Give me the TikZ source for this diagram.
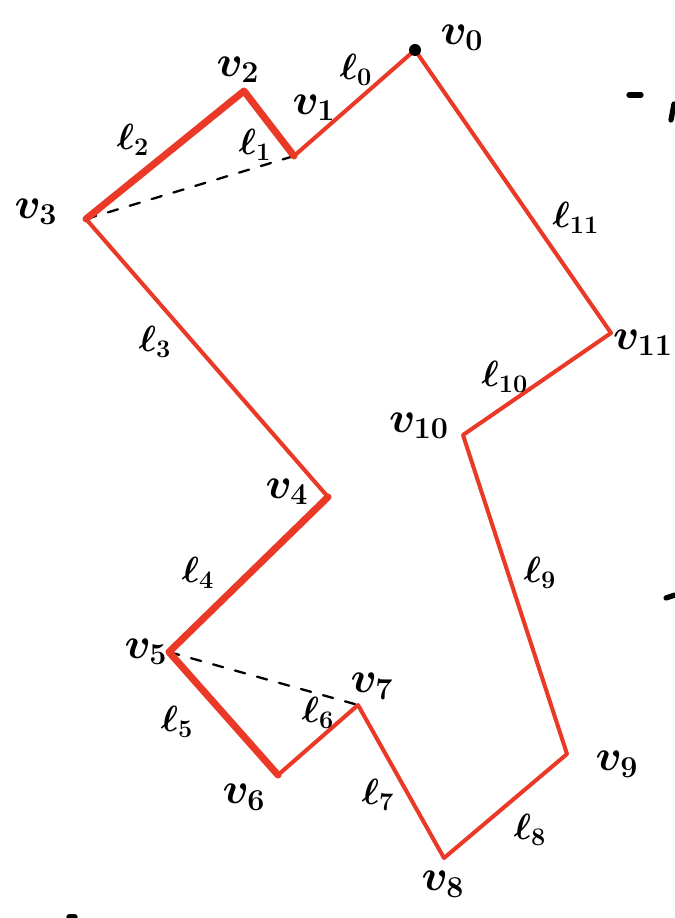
\documentclass[tikz,border=0pt]{standalone}
\usepackage{tikz}
\usetikzlibrary{positioning}
\definecolor{pen}{RGB}{234,58,39}

\begin{document}
\begin{tikzpicture}[x=0.02cm,y=-0.02cm, line cap=round, line join=round,
  edge/.style={draw=pen,line width=2.3pt},
  bold/.style={draw=pen,line width=4pt},
  diag/.style={draw,dashed,line width=1.3pt,dash pattern=on 6pt off 7pt},
  vlab/.style={font=\fontsize{26}{28}\selectfont\boldmath},
  elab/.style={font=\fontsize{21}{23}\selectfont\boldmath},
  stray/.style={line width=3pt}]
\useasboundingbox (0,0) rectangle (675,918);
% vertices
\coordinate (v0) at (415,50);
\coordinate (v1) at (294,156);
\coordinate (v2) at (244,91);
\coordinate (v3) at (86,219);
\coordinate (v4) at (328,497);
\coordinate (v5) at (169,652);
\coordinate (v6) at (278,775);
\coordinate (v7) at (358,705);
\coordinate (v8) at (444,858);
\coordinate (v9) at (567,754);
\coordinate (v10) at (463,435);
\coordinate (v11) at (611,333);
% diagonals
\draw[diag] (v3) -- (v1);
\draw[diag] (v5) -- (v7);
% polygon
\draw[edge] (v0) -- (v1);
\draw[bold] (v1) -- (v2) -- (v3);
\draw[edge] (v3) -- (v4);
\draw[bold] (v4) -- (v5) -- (v6);
\draw[edge] (v6) -- (v7) -- (v8) -- (v9) -- (v10) -- (v11) -- (v0);
\fill (v0) circle (6);
% vertex labels
\node[vlab] (l-v0) at (462,38) {$v_0$};
\node[vlab] (l-v1) at (314,108) {$v_1$};
\node[vlab] (l-v2) at (238,70) {$v_2$};
\node[vlab] (l-v3) at (36,212) {$v_3$};
\node[vlab] (l-v4) at (287,492) {$v_4$};
\node[vlab] (l-v5) at (146,652) {$v_5$};
\node[vlab] (l-v6) at (244,797) {$v_6$};
\node[vlab] (l-v7) at (372,686) {$v_7$};
\node[vlab] (l-v8) at (443,884) {$v_8$};
\node[vlab] (l-v9) at (617,764) {$v_9$};
\node[vlab] (l-v10) at (419,426) {$v_{10}$};
\node[vlab,anchor=east,inner sep=1pt] (l-v11) at (675,343) {$v_{11}$};
% edge labels
\node[elab] (e0) at (356,70) {$\ell_0$};
\node[elab] (e1) at (255,145) {$\ell_1$};
\node[elab] (e2) at (133,140) {$\ell_2$};
\node[elab] (e3) at (155,342) {$\ell_3$};
\node[elab] (e4) at (198,573) {$\ell_4$};
\node[elab] (e5) at (177,722) {$\ell_5$};
\node[elab] (e6) at (318,713) {$\ell_6$};
\node[elab] (e7) at (378,795) {$\ell_7$};
\node[elab] (e8) at (530,830) {$\ell_8$};
\node[elab] (e9) at (540,573) {$\ell_9$};
\node[elab] (e10) at (505,377) {$\ell_{10}$};
\node[elab] (e11) at (576,218) {$\ell_{11}$};
% stray marks
\draw[stray] (629,95) -- (641,95);
\draw[stray] (674,104) -- (671,120);
\draw[stray] (666,598) -- (675,595);
\draw[stray] (69,917) -- (75,917);
\end{tikzpicture}
\end{document}
